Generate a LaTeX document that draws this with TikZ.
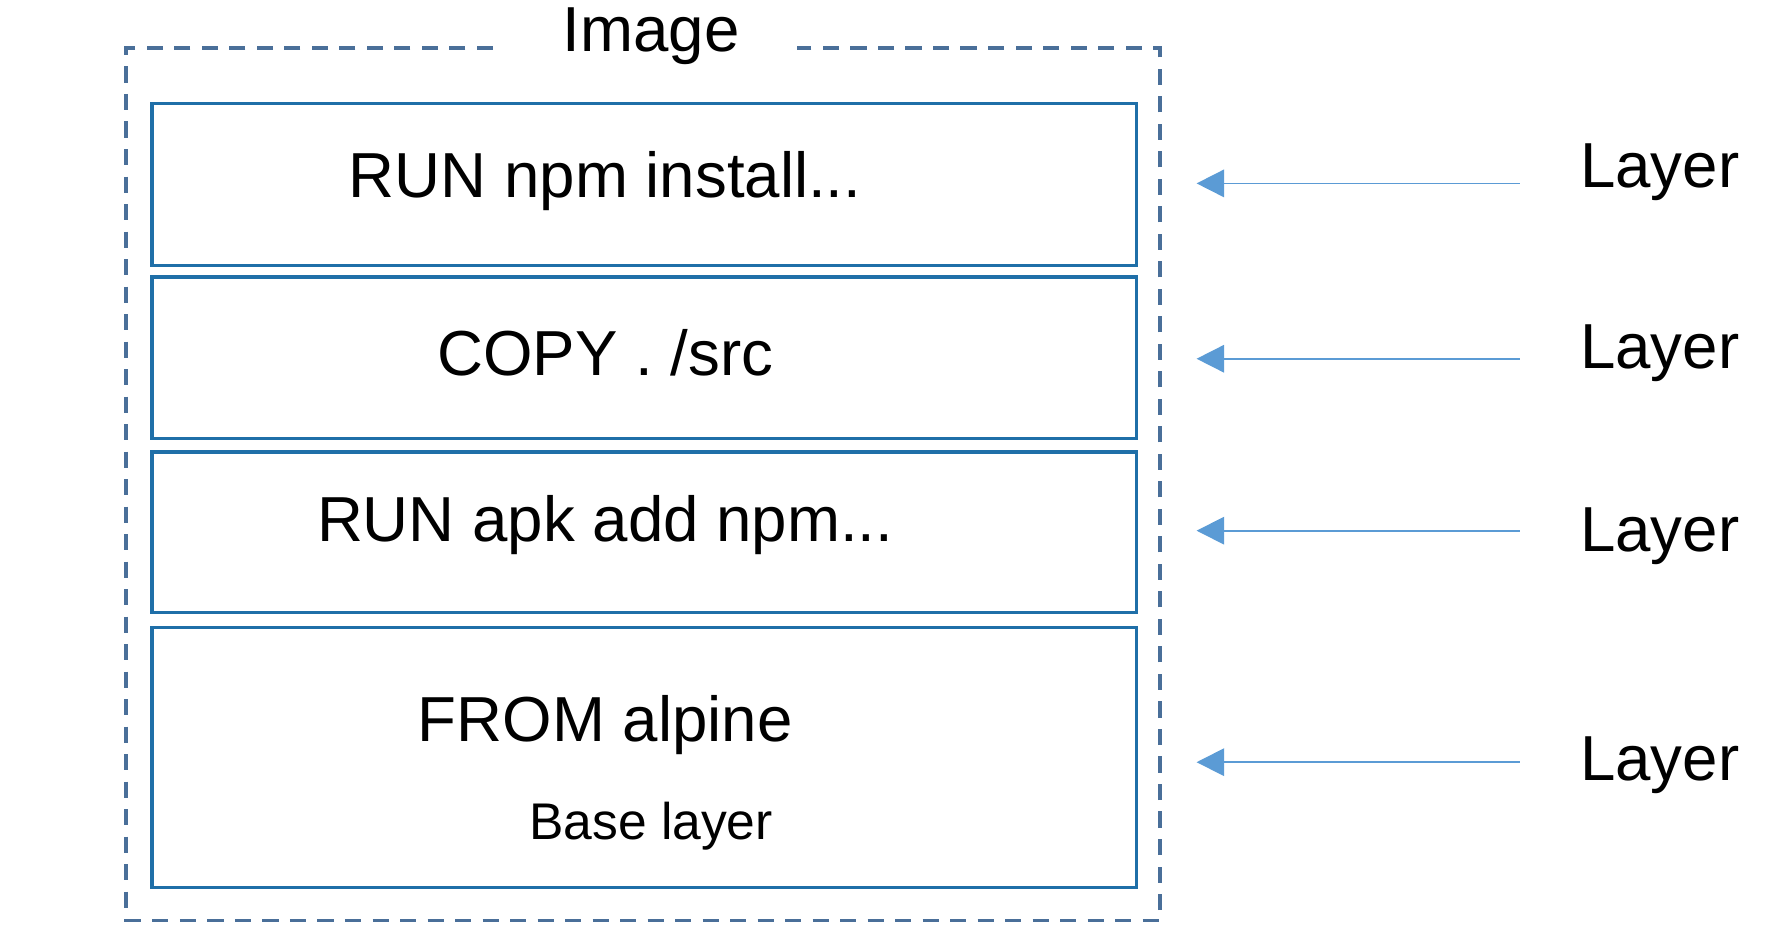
\documentclass[tikz,border=0pt]{standalone}
\usepackage{fontspec}
\setmainfont{Liberation Sans}
\usetikzlibrary{arrows.meta}
\definecolor{boxc}{HTML}{1F6FA8}
\definecolor{dashc}{HTML}{4A6F99}
\definecolor{arrc}{HTML}{5B9BD5}
\begin{document}
\begin{tikzpicture}[x=1pt,y=-1pt,
  layer/.style={draw=boxc,line width=3pt,minimum width=859pt,anchor=north west,inner sep=0pt},
  big/.style={font=\fontsize{55.5}{60}\selectfont},
  arr/.style={draw=arrc,line width=1.5pt,-{Triangle[length=24pt,width=24pt]}}]
\useasboundingbox (0,0) rectangle (1560,822);
\draw[dashc,line width=3pt,dash pattern=on 14pt off 10pt]
  (430,42) -- (110,42) -- (110,803) -- (1012,803) -- (1012,42) -- (695,42);
\node[big] (img) at (568,32) {Image};
\node[layer,minimum height=141pt] (b1) at (131,89) {};
\node[layer,minimum height=141pt] (b2) at (131,240) {};
\node[layer,minimum height=140pt] (b3) at (131,393) {};
\node[layer,minimum height=227pt] (b4) at (131,546) {};
\node[big] (t1) at (528,158) {RUN npm install...};
\node[big] (t2) at (528,308) {COPY . /src};
\node[big] (t3) at (528,458) {RUN apk add npm...};
\node[big] (t4) at (528,633) {FROM alpine};
\node[font=\fontsize{45}{50}\selectfont] (t5) at (568,721) {Base layer};
\foreach \i/\ya/\yl in {1/160/150,2/313/308,3/463/468,4/665/668}{
  \coordinate (s\i) at (1326,\ya);
  \coordinate (e\i) at (1044,\ya);
  \node[big] (l\i) at (1448,\yl) {Layer};
  \draw[arr] (s\i) -- (e\i);
}
\end{tikzpicture}
\end{document}
